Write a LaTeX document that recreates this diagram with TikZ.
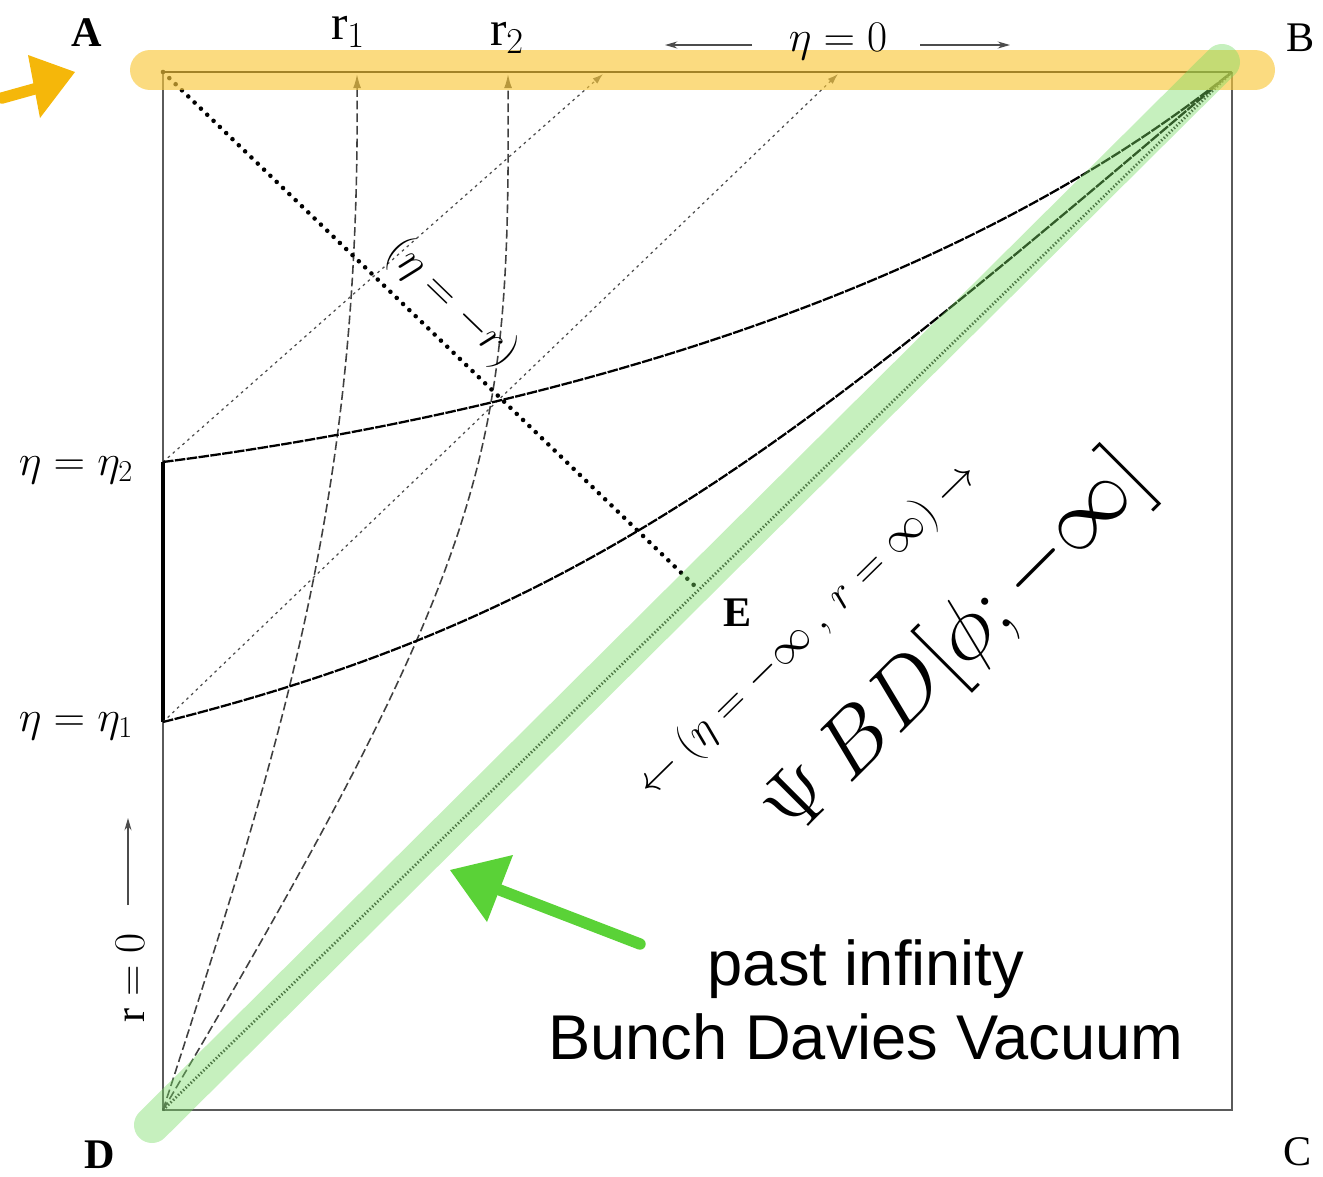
\documentclass[tikz,border=0pt]{standalone}
\usepackage{fontspec}
\setmainfont{Liberation Serif}
\newfontfamily\helv{Liberation Sans}
\usetikzlibrary{arrows.meta}
\definecolor{hlyellow}{RGB}{249,200,60}
\definecolor{hlgreen}{RGB}{120,220,100}
\definecolor{scribgreen}{RGB}{90,210,55}
\definecolor{scriborange}{RGB}{245,183,10}
\definecolor{edgegray}{RGB}{90,90,90}
\begin{document}
\begin{tikzpicture}[x=0.02cm,y=-0.02cm,
  lbl/.style={font=\fontsize{24}{28}\selectfont, inner sep=0pt},
  bigl/.style={font=\fontsize{25}{30}\selectfont, inner sep=0pt, scale=2},
  sans/.style={font=\helv\fontsize{36}{42.5}\selectfont, inner sep=0pt, align=center},
  frame/.style={draw=edgegray, line width=1.1pt},
  etacurve/.style={draw=black, line width=1.3pt, dash pattern=on 6pt off 0.8pt},
  rcurve/.style={draw=black!75, line width=0.9pt, dash pattern=on 5pt off 2.2pt, -{Latex[length=8pt,width=4.5pt]}},
  nullline/.style={draw=black!70, line width=0.7pt, dash pattern=on 1.5pt off 2.2pt, -{Latex[length=6pt,width=4pt]}},
  bigdots/.style={draw=black, line width=2.6pt, line cap=round, dash pattern=on 0pt off 5pt},
  diagdots/.style={draw=black!80, line width=1.6pt, dash pattern=on 0.8pt off 1.2pt},
  thinarrow/.style={draw=black!70, line width=0.7pt, -{Stealth[length=7pt,width=4pt]}},
]
\useasboundingbox (0,0) rectangle (1323,1177);

% corners and key points
\coordinate (A) at (163,72);
\coordinate (B) at (1232,72);
\coordinate (C) at (1232,1110);
\coordinate (D) at (163,1110);
\coordinate (P2) at (163,462);
\coordinate (P1) at (163,722);
\coordinate (E) at (699,590);
\coordinate (R1top) at (357,74);
\coordinate (R2top) at (508,74);
\coordinate (N2) at (603,74);
\coordinate (N1) at (838,74);

% frame
\draw[frame] (A) -- (D) -- (C) -- (B);
\draw[black, line width=1.7pt] (A) -- (B);
\draw[black, line width=2.3pt] (P2) -- (P1);

% null lines from eta points
\draw[nullline] (P2) -- (N2);
\draw[nullline] (P1) -- (N1);

% r = const curves
\draw[rcurve] (D) .. controls (291,717) and (360,485) .. (R1top);
\draw[rcurve] (D) .. controls (494,551) and (510,452) .. (R2top);

% eta = const curves
\draw[etacurve] (P2) .. controls (473,422) and (922,320) .. (B);
\draw[etacurve] (P1) .. controls (594,614) and (801,438) .. (B);

% A-E and diagonal
\draw[bigdots] (A) -- (E);
\draw[diagdots] (D) -- (B);

% highlights
\draw[hlyellow, opacity=0.65, line width=0.8cm, line cap=round] (150,70) -- (1255,70);
\draw[hlgreen, opacity=0.42, line width=0.72cm, line cap=round] (152,1125) -- (1222,62);

% scribbled arrows
\fill[scriborange] (28,55) -- (75,72) -- (40,118) -- cycle;
\draw[scriborange, line width=6.5pt, line cap=round] (2,98) -- (45,86);
\fill[scribgreen] (450,870) -- (513,855) -- (487,922) -- cycle;
\draw[scribgreen, line width=6.5pt, line cap=round] (640,944) -- (492,887);

% corner labels
\node[lbl, font=\bfseries\fontsize{24}{28}\selectfont] (lA) at (87,33) {A};
\node[lbl] (lB) at (1301,38) {B};
\node[lbl] (lC) at (1298,1152) {C};
\node[lbl, font=\bfseries\fontsize{24}{28}\selectfont] (lD) at (100,1155) {D};
\node[lbl, font=\bfseries\fontsize{24}{28}\selectfont] (lE) at (738,613) {E};

% top labels
\node[lbl, font=\fontsize{28}{32}\selectfont] (lr1) at (348,32) {$\mathrm{r}_1$};
\node[lbl, font=\fontsize{28}{32}\selectfont] (lr2) at (507,38) {$\mathrm{r}_2$};
\node[lbl] (leta0) at (838,42) {$\eta = 0$};
\coordinate (etaLs) at (752,45);
\coordinate (etaL) at (665,45);
\coordinate (etaRs) at (920,45);
\coordinate (etaR) at (1010,45);
\draw[thinarrow] (etaLs) -- (etaL);
\draw[thinarrow] (etaRs) -- (etaR);

% left labels
\node[lbl] (leta2) at (76,470) {$\eta = \eta_2$};
\node[lbl] (leta1) at (76,726) {$\eta = \eta_1$};
\node[lbl, rotate=90] (lr0) at (130,978) {$\mathrm{r} = 0$};
\coordinate (r0s) at (128,905);
\coordinate (r0tip) at (128,818);
\draw[thinarrow] (r0s) -- (r0tip);

% diagonal labels
\node[lbl, rotate=-44] (letar) at (452,303) {$(\eta = -r)$};
\node[lbl, rotate=44.5] (linf) at (808,630) {$\leftarrow(\eta = -\infty\ ,\ r = \infty)\rightarrow$};
\node[bigl, rotate=45] (psi) at (958,646) {$\Psi\,BD\big[\phi;-\infty\big]$};

% annotation
\node[sans] (pastinf) at (866,1000) {past infinity\\Bunch Davies Vacuum};
\end{tikzpicture}
\end{document}
